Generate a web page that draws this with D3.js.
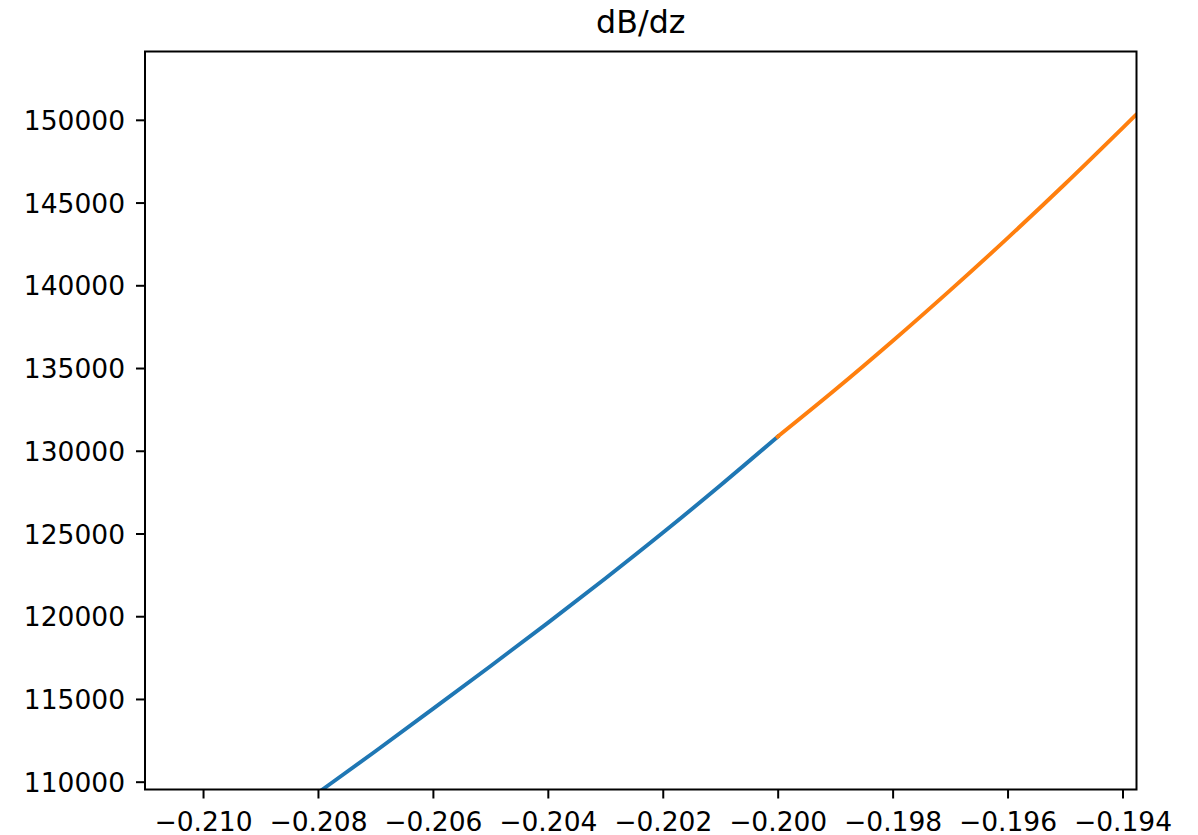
<!DOCTYPE html>
<html>
<head>
<meta charset="utf-8">
<script src="https://cdn.jsdelivr.net/npm/d3@7"></script>
<style>
  html, body { margin: 0; padding: 0; background: #fff; }
  svg { display: block; font-family: "DejaVu Sans", sans-serif; }
</style>
</head>
<body>
<svg id="chart" width="1198" height="835"></svg>
<script>
// ---- data ----
const titleText = "dB/dz";
const xDomain = [-0.21101, -0.193756];
const yDomain = [109528, 154129];
const xTicks = [-0.210, -0.208, -0.206, -0.204, -0.202, -0.200, -0.198, -0.196, -0.194];
const yTicks = [110000, 115000, 120000, 125000, 130000, 135000, 140000, 145000, 150000];

const blueX = [-0.2085, -0.2080, -0.2070, -0.2060, -0.2050, -0.2040, -0.2030, -0.2020, -0.2010, -0.2000];
const blueY = [108080, 109330, 111840, 114400, 116980, 119600, 122280, 125040, 127900, 130850];
const orangeX = [-0.2000, -0.1990, -0.1980, -0.1970, -0.1960, -0.1950, -0.1940, -0.19375];
const orangeY = [130850, 133680, 136630, 139690, 142850, 146120, 149500, 150350];

// ---- layout ----
const svg = d3.select("#chart");
const pLeft = 145, pRight = 1136.5, pTop = 51.5, pBottom = 789.5;
const x = d3.scaleLinear().domain(xDomain).range([pLeft, pRight]);
const y = d3.scaleLinear().domain(yDomain).range([pBottom, pTop]);
const fontSize = 26.5;
const tickLen = 9;

svg.append("defs").append("clipPath").attr("id", "clip")
  .append("rect").attr("x", pLeft).attr("y", pTop)
  .attr("width", pRight - pLeft).attr("height", pBottom - pTop);

const line = d3.line().x(d => x(d[0])).y(d => y(d[1])).curve(d3.curveMonotoneX);

const plot = svg.append("g").attr("clip-path", "url(#clip)");
plot.append("path")
  .datum(blueX.map((v, i) => [v, blueY[i]]))
  .attr("d", line).attr("fill", "none")
  .attr("stroke", "#1f77b4").attr("stroke-width", 3.9)
  .attr("stroke-linecap", "square");
plot.append("path")
  .datum(orangeX.map((v, i) => [v, orangeY[i]]))
  .attr("d", line).attr("fill", "none")
  .attr("stroke", "#ff7f0e").attr("stroke-width", 3.9)
  .attr("stroke-linecap", "square");

// x axis
const xAxis = d3.axisBottom(x).tickValues(xTicks).tickSize(tickLen).tickPadding(0)
  .tickFormat(d => d3.format(".3f")(d).replace("-", "\u2212").replace("\u2212", "\u2212"));
const gx = svg.append("g").attr("transform", `translate(0,${pBottom})`).call(xAxis);
gx.select(".domain").remove();
gx.selectAll(".tick line").attr("stroke", "#000").attr("stroke-width", 2);
gx.selectAll(".tick text").attr("fill", "#000").attr("font-size", fontSize)
  .attr("font-family", "DejaVu Sans").attr("dy", null).attr("y", 41);

// y axis
const yAxis = d3.axisLeft(y).tickValues(yTicks).tickSize(tickLen).tickPadding(0)
  .tickFormat(d3.format("d"));
const gy = svg.append("g").attr("transform", `translate(${pLeft},0)`).call(yAxis);
gy.select(".domain").remove();
gy.selectAll(".tick line").attr("stroke", "#000").attr("stroke-width", 2);
gy.selectAll(".tick text").attr("fill", "#000").attr("font-size", fontSize)
  .attr("font-family", "DejaVu Sans").attr("x", -20).attr("dy", "0.36em");

// frame
svg.append("rect").attr("x", pLeft).attr("y", pTop)
  .attr("width", pRight - pLeft).attr("height", pBottom - pTop)
  .attr("fill", "none").attr("stroke", "#000").attr("stroke-width", 2);

// title
svg.append("text").attr("x", (pLeft + pRight) / 2).attr("y", 33)
  .attr("text-anchor", "middle").attr("font-size", 31.7).attr("fill", "#000")
  .attr("font-family", "DejaVu Sans")
  .text(titleText);
</script>
</body>
</html>
